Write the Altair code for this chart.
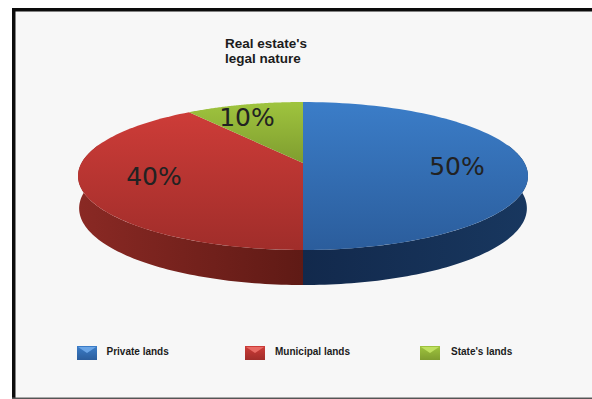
import math
import altair as alt
import pandas as pd

# Chart content
TITLE_LINES = ["Real estate's", "legal nature"]
CATEGORIES = ["Private lands", "Municipal lands", "State's lands"]
SHARES = [50, 40, 10]
PERCENT_LABELS = ["50%", "40%", "10%"]

# Styling per category: top face (light, dark), wall (outer, inner)
TOP_FILL = [("#3b7dc8", "#2b5d9c"), ("#cd3c38", "#a02d2a"), ("#9fc43e", "#7f9d2f")]
WALL_FILL = [("#18375f", "#12294c"), ("#8a2924", "#5f1a15")]
SWATCH_LIGHT = ["#6aa5e6", "#e86a64", "#bfe060"]
LABEL_POS = [(457, 167), (154, 177), (247, 118)]
LEGEND_SWATCH_X = [77, 245, 420]
LEGEND_TEXT_X = [106.5, 275, 451]

W, H = 592, 399
APEX_X, APEX_Y = 303, 163
RX, RY, K = 221.5, 71.7, 0.1756
DEPTH = 31.8


def project(theta, drop=0.0, shrink=1.0):
    """Perspective view of a disc; theta runs clockwise from the far side."""
    u, v = math.sin(theta), math.cos(theta)
    w = 1 + K * v
    return APEX_X + shrink * RX * u / w, APEX_Y - RY * v / w + drop / math.sqrt(w)


def steps(start, end, n=90):
    return [start + (end - start) * i / n for i in range(n + 1)]


def polygon(points):
    return pd.DataFrame(
        [{"x": x, "y": y, "i": i} for i, (x, y) in enumerate(points)]
    )


x_scale = alt.Scale(domain=[0, W], range=[0, W], nice=False, zero=False)
y_scale = alt.Scale(domain=[0, H], range=[0, H], nice=False, zero=False)
X = alt.X("x:Q", scale=x_scale, axis=None)
Y = alt.Y("y:Q", scale=y_scale, axis=None)


def gradient(c0, c1, horizontal=False):
    return alt.Gradient(
        gradient="linear",
        stops=[alt.GradientStop(color=c0, offset=0), alt.GradientStop(color=c1, offset=1)],
        x1=0, x2=1 if horizontal else 0, y1=0, y2=0 if horizontal else 1,
    )


def shape(points, fill):
    return (
        alt.Chart(polygon(points))
        .mark_line(fill=fill, strokeWidth=0, interpolate="linear")
        .encode(x=X, y=Y, order="i:Q")
    )


def box(x0, x1, y0, y1, fill):
    return (
        alt.Chart(pd.DataFrame([{"x": x0, "x2": x1, "y": y0, "y2": y1}]))
        .mark_rect(fill=fill, strokeWidth=0)
        .encode(x=X, x2="x2:Q", y=Y, y2="y2:Q")
    )


def text(x, y, label, size, font, weight, align="left", color="#1c1c1c"):
    return (
        alt.Chart(pd.DataFrame([{"x": x, "y": y, "t": label}]))
        .mark_text(align=align, baseline="middle", fontSize=size, font=font,
                   fontWeight=weight, color=color)
        .encode(x=X, y=Y, text="t:N")
    )


layers = [
    box(16, W, 11, 397, "#f7f7f7"),
    box(12, W, 8, 11.5, "#0c0c0c"),
    box(12, 15.5, 8, H, "#0c0c0c"),
    box(12, W, 397.5, H, "#555555"),
]

# Slice angles follow the shares, clockwise from the far side of the disc
edges = [0.0]
for share in SHARES:
    edges.append(edges[-1] + share / sum(SHARES) * 2 * math.pi)

# Side wall: only the near half of the disc shows it
wall_spans = [(math.radians(75), math.pi), (math.pi, math.radians(285))]
for idx, (a, b) in enumerate(wall_spans):
    rim = [project(t) for t in steps(a, b)]
    low = [project(t, DEPTH, 0.995) for t in steps(b, a)]
    c0, c1 = WALL_FILL[idx]
    fill = gradient(c1, c0, True) if idx == 0 else gradient(c0, c1, True)
    layers.append(shape(rim + low, fill))

# Top face
for idx in range(len(SHARES)):
    arc_points = [project(t) for t in steps(edges[idx], edges[idx + 1])]
    layers.append(shape([(APEX_X, APEX_Y)] + arc_points, gradient(*TOP_FILL[idx])))

for (x, y), label in zip(LABEL_POS, PERCENT_LABELS):
    layers.append(text(x, y, label, 25, "DejaVu Sans", "normal", "center", "#222222"))

# Title
for y, line in zip([44, 59], TITLE_LINES):
    layers.append(text(225, y, line, 13.5, "Liberation Sans", "bold"))

# Legend: envelope-style swatches with a lighter flap
for idx, name in enumerate(CATEGORIES):
    sx = LEGEND_SWATCH_X[idx]
    layers.append(box(sx, sx + 20, 346, 360, gradient(*TOP_FILL[idx])))
    layers.append(shape([(sx + 1, 347), (sx + 19, 347), (sx + 10, 353)], SWATCH_LIGHT[idx]))
    layers.append(text(LEGEND_TEXT_X[idx], 351.5, name, 10, "Liberation Sans", "bold"))

chart = (
    alt.layer(*layers)
    .properties(width=W, height=H, padding=0, background="#ffffff",
                autosize=alt.AutoSizeParams(type="none"))
    .configure_view(stroke=None)
)

chart.save("out.html", embed_options={"renderer": "svg", "actions": False})
